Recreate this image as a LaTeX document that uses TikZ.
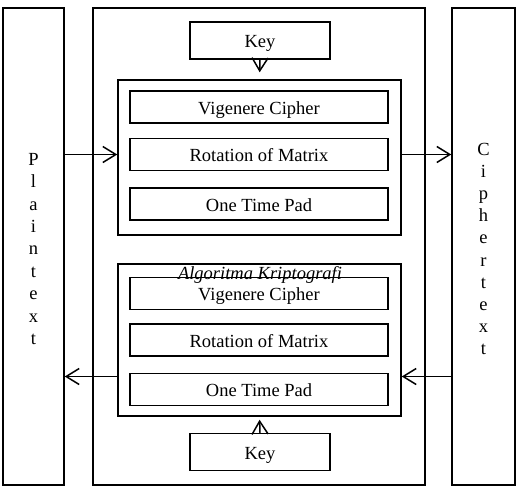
\documentclass[tikz,border=0pt]{standalone}
\usepackage{fontspec}
\setmainfont{Liberation Serif}
\usetikzlibrary{arrows.meta,positioning}

\begin{document}
\begin{tikzpicture}[x=0.5pt, y=-0.5pt,
    every node/.style={font=\fontsize{9.25}{11.2}\selectfont, align=center},
    side/.style={draw, rectangle, line width=0.75pt, minimum height=238.5pt, inner sep=0pt},
    keybox/.style={draw, rectangle, line width=0.75pt, minimum width=70pt, minimum height=18.5pt,
                   inner sep=0pt, text height=8.5pt, text depth=1.5pt},
    algo/.style={draw, rectangle, line width=0.75pt, minimum width=141.5pt, inner sep=0pt},
    cbox/.style={draw, rectangle, line width=0.75pt, minimum width=129pt, minimum height=16pt,
                 inner sep=0pt, text height=8.5pt, text depth=1.5pt},
    algolabel/.style={font=\fontsize{9.25}{11.2}\selectfont\itshape},
    arrow/.style={-{Straight Barb[length=6.5pt, width=8pt]}, line width=0.75pt}
]
\useasboundingbox (0,0) rectangle (518,498);

% outer columns
\node[side, minimum width=30.5pt] (plain) at (33.5,246.5) {};
\node[side, minimum width=166pt] (mid) at (259,246.5) {};
\node[side, minimum width=31.5pt] (cipher) at (483.5,246.5) {};
\node (plaintxt) at (33.5,249) {P\\l\\a\\i\\n\\t\\e\\x\\t};
\node[font=\fontsize{9.25}{11.1}\selectfont] (ciphertxt) at (483.5,249) {C\\i\\p\\h\\e\\r\\t\\e\\x\\t};

% encryption
\node[keybox] (keyA) at (260,40.5) {Key};
\node[algo, minimum height=77.5pt] (algoA) at (259.5,157.5) {};
\node[cbox] (vigA) at (259,107) {Vigenere Cipher};
\node[cbox, below=7pt of vigA] (rotA) {Rotation of Matrix};
\node[cbox, below=8pt of rotA] (otpA) {One Time Pad};

% decryption
\node[algo, minimum height=76pt] (algoB) at (259.5,340) {};
\node[algolabel] (algoname) at (260,275) {Algoritma Kriptografi};
\node[cbox] (vigB) at (259,293.5) {Vigenere Cipher};
\node[cbox, below=6.5pt of vigB] (rotB) {Rotation of Matrix};
\node[cbox, below=8pt of rotB] (otpB) {One Time Pad};
\node[keybox] (keyB) at (260,452) {Key};
\coordinate (back) at (259.5,376.5);

\draw[arrow, shorten >=3.5pt] (keyA.south) -- (algoA.north);
\draw[arrow, shorten >=1.5pt] (keyB.north) -- (algoB.south);
\draw[arrow] (plain.east |- rotA) -- (algoA.west |- rotA);
\draw[arrow] (algoA.east |- rotA) -- (cipher.west |- rotA);
\draw[arrow] (algoB.west |- back) -- (plain.east |- back);
\draw[arrow] (cipher.west |- back) -- (algoB.east |- back);
\end{tikzpicture}
\end{document}
